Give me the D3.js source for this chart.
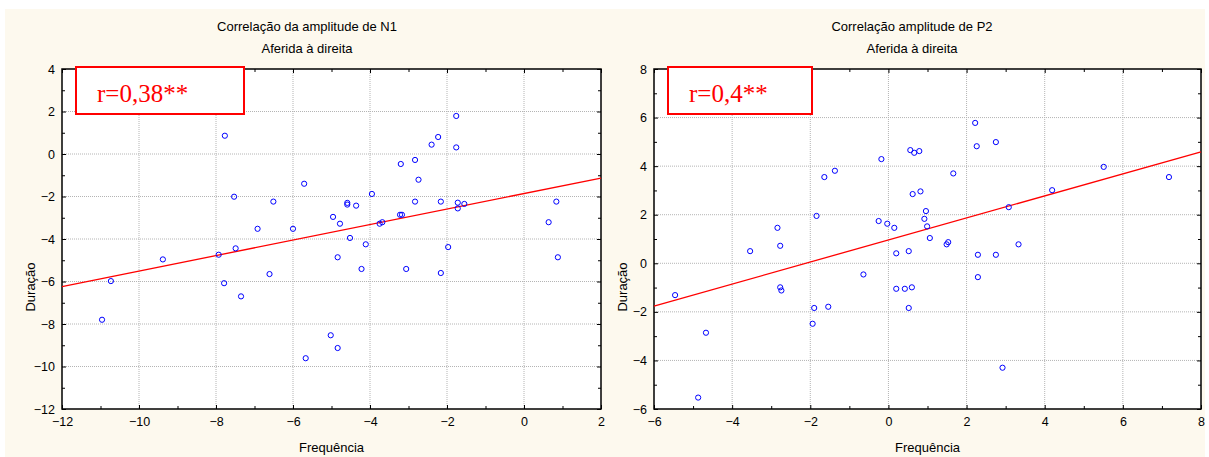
<!DOCTYPE html>
<html lang="pt">
<head>
    <meta charset="UTF-8">
    <title>Correlação amplitude</title>
    <script src="https://d3js.org/d3.v7.min.js"></script>
    <style>
        body { margin: 0; background: #ffffff; font-family: "Liberation Sans", Arial, sans-serif; }
        svg { display: block; }
        .grid line { stroke: #b4b4b4; stroke-dasharray: 1,1; }
        .axis text { font-size: 12.5px; fill: #000; font-family: "Liberation Sans", Arial, sans-serif; }
        .axis path, .axis line { stroke: #000; }
    </style>
</head>
<body>
    <svg id="chart" width="1209" height="457"></svg>
    <script>
        // --- data: left panel (N1) ---
        const n1X = [-7.77, -5.71, -7.53, -6.51, -4.96, -4.78, -6.92, -6.00, -7.93, -7.49,
                     -9.38, -4.84, -10.73, -10.96, -7.79, -7.35, -6.61, -5.02, -4.84, -5.67,
                     -4.52, -4.11, -4.22, -3.06, -2.16, -1.97, 0.88, -1.76, -2.23, -2.40,
                     -1.76, -2.83, -3.20, -2.74, -3.95, -4.59, -4.59, -4.36, -3.75, -3.68,
                     -3.22, -3.17, -2.83, -2.16, -1.72, -1.72, -1.55, 0.64, 0.84];
        const n1Y = [0.86, -1.40, -2.01, -2.24, -2.96, -3.28, -3.52, -3.52, -4.74, -4.44,
                     -4.96, -4.86, -5.98, -7.80, -6.08, -6.70, -5.65, -8.53, -9.13, -9.61,
                     -3.95, -4.25, -5.41, -5.41, -5.60, -4.38, -4.86, 1.79, 0.80, 0.44,
                     0.31, -0.28, -0.47, -1.21, -1.88, -2.30, -2.38, -2.43, -3.28, -3.21,
                     -2.86, -2.86, -2.24, -2.24, -2.29, -2.56, -2.35, -3.21, -2.24];
        const n1Fit = { intercept: -1.86, slope: 0.365 };

        // --- data: right panel (P2) ---
        const p2X = [-5.46, -4.67, -4.87, -3.54, -2.84, -2.77, -2.77, -2.74, -1.90, -1.54,
                     -1.94, -1.84, -1.64, -1.37, -0.64, -0.18, -0.25, -0.03, 0.15, 0.20,
                     0.52, 0.20, 0.42, 0.60, 0.52, 0.56, 0.66, 0.79, 0.62, 0.82,
                     0.96, 0.92, 0.99, 1.06, 1.49, 1.53, 1.66, 2.22, 2.26, 2.75,
                     2.29, 2.75, 2.29, 2.92, 3.08, 3.33, 4.19, 5.51, 7.18];
        const p2Y = [-1.31, -2.86, -5.53, 0.50, 1.46, 0.72, -0.99, -1.12, -1.84, -1.79,
                     -2.49, 1.95, 3.55, 3.81, -0.46, 4.29, 1.74, 1.63, 1.46, 0.41,
                     0.50, -1.05, -1.05, -0.99, -1.84, 4.66, 4.55, 4.62, 2.85, 2.96,
                     2.15, 1.83, 1.52, 1.04, 0.78, 0.87, 3.70, 5.78, 4.82, 4.99,
                     0.35, 0.35, -0.57, -4.30, 2.31, 0.78, 3.01, 3.97, 3.55];
        const p2Fit = { intercept: 0.96, slope: 0.4536 };

        const n1XTicks = [-12, -10, -8, -6, -4, -2, 0, 2];
        const n1YTicks = [-12, -10, -8, -6, -4, -2, 0, 2, 4];
        const p2XTicks = [-6, -4, -2, 0, 2, 4, 6, 8];
        const p2YTicks = [-6, -4, -2, 0, 2, 4, 6, 8];

        const panels = [
            { title: 'Correlação da amplitude de N1', subtitle: 'Aferida à direita', r: 'r=0,38**',
              xs: n1X, ys: n1Y, fit: n1Fit, xTicks: n1XTicks, yTicks: n1YTicks,
              left: 62, right: 601, cx: 307, boxW: 168 },
            { title: 'Correlação amplitude de P2', subtitle: 'Aferida à direita', r: 'r=0,4**',
              xs: p2X, ys: p2Y, fit: p2Fit, xTicks: p2XTicks, yTicks: p2YTicks,
              left: 654, right: 1201, cx: 912, boxW: 144 }
        ];

        const plotTop = 69, plotBottom = 409;
        const svg = d3.select('#chart');

        // cream background
        svg.append('rect').attr('x', 5).attr('y', 9).attr('width', 1200).attr('height', 448)
           .attr('fill', '#fdf9ee');

        panels.forEach(p => {
            const xDom = d3.extent(p.xTicks), yDom = d3.extent(p.yTicks);
            const x = d3.scaleLinear().domain(xDom).range([p.left, p.right]);
            const y = d3.scaleLinear().domain(yDom).range([plotBottom, plotTop]);
            const minorX = d3.range(xDom[0] + 1, xDom[1], 2);
            const minorY = d3.range(yDom[0] + 1, yDom[1], 2);
            const g = svg.append('g');

            g.append('rect').attr('x', p.left).attr('y', plotTop)
             .attr('width', p.right - p.left).attr('height', plotBottom - plotTop).attr('fill', '#fff');

            // grid
            const grid = g.append('g').attr('class', 'grid');
            grid.selectAll('.gx').data(p.xTicks.slice(1, -1)).join('line').attr('class', 'gx')
                .attr('x1', d => x(d)).attr('x2', d => x(d)).attr('y1', plotTop).attr('y2', plotBottom);
            grid.selectAll('.gy').data(p.yTicks.slice(1, -1)).join('line').attr('class', 'gy')
                .attr('y1', d => y(d)).attr('y2', d => y(d)).attr('x1', p.left).attr('x2', p.right);

            // axes (ticks inward)
            const ax = (gen, tr) => g.append('g').attr('class', 'axis').attr('transform', tr).call(gen);
            ax(d3.axisBottom(x).tickValues(p.xTicks).tickSizeInner(-4).tickSizeOuter(0).tickPadding(8)
                .tickFormat(d3.format('d')), `translate(0,${plotBottom})`);
            ax(d3.axisLeft(y).tickValues(p.yTicks).tickSizeInner(-4).tickSizeOuter(0).tickPadding(7)
                .tickFormat(d3.format('d')), `translate(${p.left},0)`);
            ax(d3.axisTop(x).tickValues(p.xTicks).tickSizeInner(-4).tickSizeOuter(0).tickFormat(''),
                `translate(0,${plotTop})`);
            ax(d3.axisRight(y).tickValues(p.yTicks).tickSizeInner(-4).tickSizeOuter(0).tickFormat(''),
                `translate(${p.right},0)`);
            // minor ticks
            ax(d3.axisBottom(x).tickValues(minorX).tickSize(-3).tickFormat(''), `translate(0,${plotBottom})`);
            ax(d3.axisTop(x).tickValues(minorX).tickSize(-3).tickFormat(''), `translate(0,${plotTop})`);
            ax(d3.axisLeft(y).tickValues(minorY).tickSize(-3).tickFormat(''), `translate(${p.left},0)`);
            ax(d3.axisRight(y).tickValues(minorY).tickSize(-3).tickFormat(''), `translate(${p.right},0)`);
            g.selectAll('.axis .domain').remove();
            g.selectAll('.axis text').attr('fill', '#000');

            // frame
            g.append('rect').attr('x', p.left).attr('y', plotTop)
             .attr('width', p.right - p.left).attr('height', plotBottom - plotTop)
             .attr('fill', 'none').attr('stroke', '#000').attr('stroke-width', 1.5);

            // regression line
            g.append('line')
             .attr('x1', x(xDom[0])).attr('y1', y(p.fit.intercept + p.fit.slope * xDom[0]))
             .attr('x2', x(xDom[1])).attr('y2', y(p.fit.intercept + p.fit.slope * xDom[1]))
             .attr('stroke', '#ff0000').attr('stroke-width', 1.3);

            // points
            g.selectAll('circle').data(p.xs.map((v, i) => [v, p.ys[i]])).join('circle')
             .attr('cx', d => x(d[0])).attr('cy', d => y(d[1])).attr('r', 2.6)
             .attr('fill', 'none').attr('stroke', '#0000ff').attr('stroke-width', 1);

            // r box
            g.append('rect').attr('x', p.left + 14).attr('y', 67).attr('width', p.boxW)
             .attr('height', 47).attr('fill', '#fff').attr('stroke', '#ff0000').attr('stroke-width', 2);
            g.append('text').attr('x', p.left + 35).attr('y', 102).text(p.r)
             .attr('font-family', '"Liberation Serif", "Times New Roman", serif')
             .attr('font-size', 25).attr('fill', '#ff0000');

            // titles
            g.append('text').attr('x', p.cx).attr('y', 31).attr('text-anchor', 'middle')
             .attr('font-size', 13).text(p.title);
            g.append('text').attr('x', p.cx).attr('y', 53).attr('text-anchor', 'middle')
             .attr('font-size', 13).text(p.subtitle);

            // axis titles
            g.append('text').attr('x', (p.left + p.right) / 2).attr('y', 452).attr('text-anchor', 'middle')
             .attr('font-size', 13).text('Frequência');
            g.append('text').attr('transform', `translate(${p.left - 27},287) rotate(-90)`)
             .attr('text-anchor', 'middle').attr('font-size', 13).text('Duração');
        });
    </script>
</body>
</html>
